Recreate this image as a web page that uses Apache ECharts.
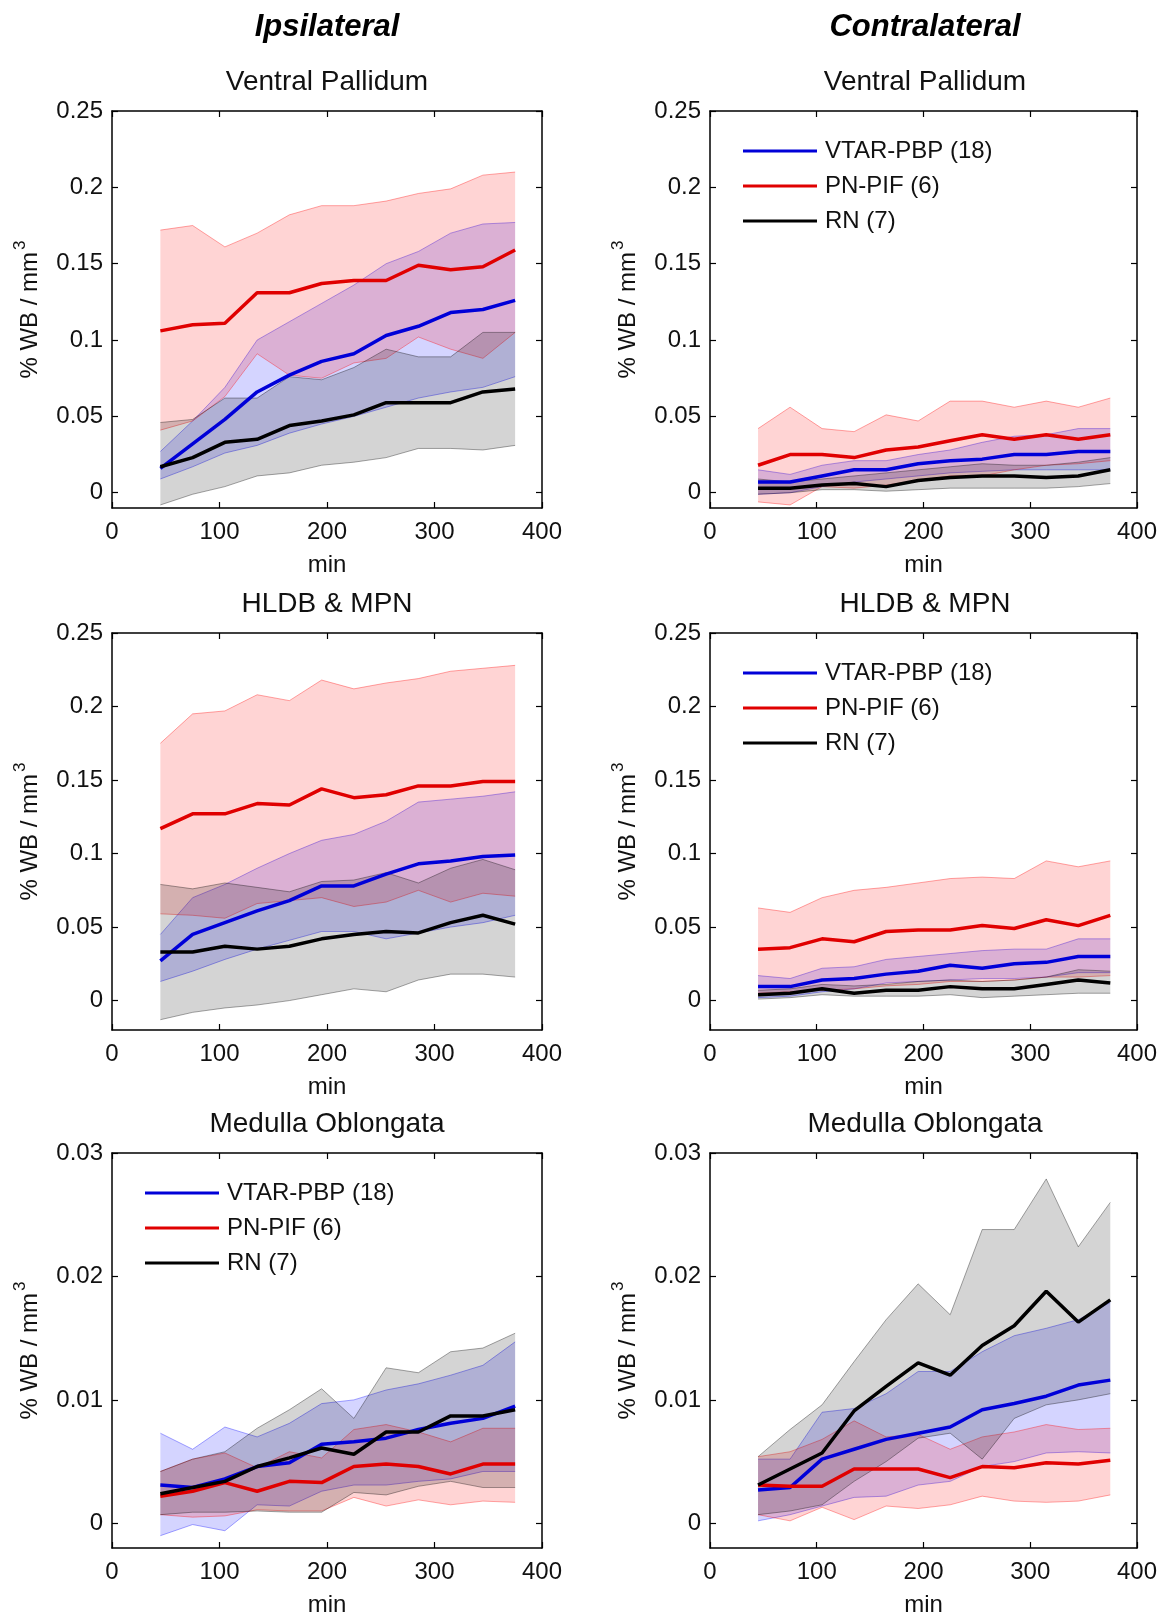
<!DOCTYPE html>
<html>
<head>
<meta charset="utf-8">
<title>Ipsilateral / Contralateral</title>
<script src="https://cdn.jsdelivr.net/npm/echarts@6/dist/echarts.min.js"></script>
<style>
  html, body { margin: 0; padding: 0; background: #fff; }
  #chart { width: 1160px; height: 1618px; }
</style>
</head>
<body>
<div id="chart"></div>
<script>
// ---- shared axes / labels ----
const minutes = [45, 75, 105, 135, 165, 195, 225, 255, 285, 315, 345, 375];
const xTicks = [0, 100, 200, 300, 400];
const yTicksForebrain = [0, 0.05, 0.1, 0.15, 0.2, 0.25];
const yTicksMedulla = [0, 0.01, 0.02, 0.03];
const groupNames = ['VTAR-PBP (18)', 'PN-PIF (6)', 'RN (7)'];
const columnTitles = ['Ipsilateral', 'Contralateral'];
const regionTitles = ['Ventral Pallidum', 'HLDB & MPN', 'Medulla Oblongata'];

// ---- Ipsilateral · Ventral Pallidum ----
const ipsiVPVtarMean = [0.016, 0.032, 0.048, 0.066, 0.077, 0.086, 0.091, 0.103, 0.109, 0.118, 0.120, 0.126];
const ipsiVPVtarLow  = [0.009, 0.017, 0.026, 0.031, 0.039, 0.045, 0.050, 0.056, 0.062, 0.066, 0.069, 0.076];
const ipsiVPVtarHigh = [0.027, 0.047, 0.069, 0.100, 0.112, 0.124, 0.136, 0.150, 0.158, 0.170, 0.176, 0.177];
const ipsiVPPnMean   = [0.106, 0.110, 0.111, 0.131, 0.131, 0.137, 0.139, 0.139, 0.149, 0.146, 0.148, 0.159];
const ipsiVPPnLow    = [0.041, 0.047, 0.063, 0.091, 0.077, 0.075, 0.085, 0.088, 0.102, 0.094, 0.088, 0.105];
const ipsiVPPnHigh   = [0.172, 0.175, 0.161, 0.170, 0.182, 0.188, 0.188, 0.191, 0.196, 0.199, 0.208, 0.210];
const ipsiVPRnMean   = [0.017, 0.023, 0.033, 0.035, 0.044, 0.047, 0.051, 0.059, 0.059, 0.059, 0.066, 0.068];
const ipsiVPRnLow    = [-0.008, -0.001, 0.004, 0.011, 0.013, 0.018, 0.020, 0.023, 0.029, 0.029, 0.028, 0.031];
const ipsiVPRnHigh   = [0.046, 0.048, 0.062, 0.062, 0.076, 0.074, 0.082, 0.094, 0.089, 0.089, 0.105, 0.105];

// ---- Contralateral · Ventral Pallidum ----
const contraVPVtarMean = [0.007, 0.007, 0.011, 0.015, 0.015, 0.019, 0.021, 0.022, 0.025, 0.025, 0.027, 0.027];
const contraVPVtarLow  = [-0.001, 0.000, 0.004, 0.007, 0.009, 0.011, 0.013, 0.014, 0.015, 0.015, 0.015, 0.015];
const contraVPVtarHigh = [0.015, 0.012, 0.018, 0.021, 0.021, 0.025, 0.028, 0.033, 0.037, 0.038, 0.042, 0.042];
const contraVPPnMean   = [0.018, 0.025, 0.025, 0.023, 0.028, 0.030, 0.034, 0.038, 0.035, 0.038, 0.035, 0.038];
const contraVPPnLow    = [-0.006, -0.008, 0.004, 0.003, 0.005, 0.008, 0.011, 0.011, 0.015, 0.018, 0.019, 0.021];
const contraVPPnHigh   = [0.042, 0.056, 0.042, 0.040, 0.051, 0.047, 0.060, 0.060, 0.056, 0.060, 0.056, 0.062];
const contraVPRnMean   = [0.003, 0.003, 0.005, 0.006, 0.004, 0.008, 0.010, 0.011, 0.011, 0.010, 0.011, 0.015];
const contraVPRnLow    = [-0.001, 0.000, 0.002, 0.002, 0.001, 0.002, 0.003, 0.003, 0.003, 0.003, 0.004, 0.006];
const contraVPRnHigh   = [0.009, 0.007, 0.009, 0.011, 0.013, 0.015, 0.017, 0.019, 0.018, 0.018, 0.020, 0.023];

// ---- Ipsilateral · HLDB & MPN ----
const ipsiHLVtarMean = [0.027, 0.045, 0.053, 0.061, 0.068, 0.078, 0.078, 0.086, 0.093, 0.095, 0.098, 0.099];
const ipsiHLVtarLow  = [0.013, 0.020, 0.028, 0.035, 0.041, 0.047, 0.047, 0.042, 0.046, 0.050, 0.053, 0.058];
const ipsiHLVtarHigh = [0.045, 0.070, 0.079, 0.090, 0.100, 0.109, 0.113, 0.122, 0.135, 0.137, 0.139, 0.142];
const ipsiHLPnMean   = [0.117, 0.127, 0.127, 0.134, 0.133, 0.144, 0.138, 0.140, 0.146, 0.146, 0.149, 0.149];
const ipsiHLPnLow    = [0.059, 0.058, 0.056, 0.066, 0.068, 0.070, 0.064, 0.067, 0.075, 0.067, 0.073, 0.071];
const ipsiHLPnHigh   = [0.175, 0.195, 0.197, 0.208, 0.204, 0.218, 0.212, 0.216, 0.219, 0.224, 0.226, 0.228];
const ipsiHLRnMean   = [0.033, 0.033, 0.037, 0.035, 0.037, 0.042, 0.045, 0.047, 0.046, 0.053, 0.058, 0.052];
const ipsiHLRnLow    = [-0.013, -0.008, -0.005, -0.003, 0.000, 0.004, 0.008, 0.006, 0.014, 0.018, 0.018, 0.016];
const ipsiHLRnHigh   = [0.079, 0.076, 0.080, 0.077, 0.074, 0.081, 0.082, 0.087, 0.080, 0.090, 0.096, 0.089];

// ---- Contralateral · HLDB & MPN ----
const contraHLVtarMean = [0.0095, 0.0095, 0.014, 0.015, 0.018, 0.020, 0.024, 0.022, 0.025, 0.026, 0.030, 0.030];
const contraHLVtarLow  = [0.002, 0.003, 0.006, 0.008, 0.012, 0.013, 0.014, 0.015, 0.015, 0.016, 0.019, 0.019];
const contraHLVtarHigh = [0.017, 0.015, 0.022, 0.023, 0.028, 0.030, 0.032, 0.034, 0.035, 0.035, 0.042, 0.042];
const contraHLPnMean   = [0.035, 0.036, 0.042, 0.040, 0.047, 0.048, 0.048, 0.051, 0.049, 0.055, 0.051, 0.058];
const contraHLPnLow    = [0.005, 0.006, 0.007, 0.008, 0.010, 0.011, 0.013, 0.013, 0.014, 0.016, 0.016, 0.017];
const contraHLPnHigh   = [0.063, 0.060, 0.070, 0.075, 0.077, 0.080, 0.083, 0.084, 0.083, 0.095, 0.091, 0.095];
const contraHLRnMean   = [0.004, 0.005, 0.008, 0.005, 0.007, 0.007, 0.0095, 0.008, 0.008, 0.011, 0.014, 0.012];
const contraHLRnLow    = [0.001, 0.002, 0.004, 0.003, 0.003, 0.003, 0.004, 0.002, 0.003, 0.004, 0.005, 0.005];
const contraHLRnHigh   = [0.007, 0.008, 0.011, 0.010, 0.011, 0.013, 0.014, 0.013, 0.014, 0.016, 0.021, 0.020];

// ---- Ipsilateral · Medulla Oblongata ----
const ipsiMOVtarMean = [0.0031, 0.0029, 0.0036, 0.0046, 0.0049, 0.0064, 0.0066, 0.0069, 0.0076, 0.0081, 0.0085, 0.0095];
const ipsiMOVtarLow  = [-0.0010, -0.0001, -0.0006, 0.0015, 0.0014, 0.0026, 0.0031, 0.0031, 0.0034, 0.0036, 0.0042, 0.0042];
const ipsiMOVtarHigh = [0.0073, 0.0060, 0.0078, 0.0070, 0.0081, 0.0097, 0.0100, 0.0108, 0.0113, 0.0120, 0.0128, 0.0147];
const ipsiMOPnMean   = [0.0022, 0.0026, 0.0033, 0.0026, 0.0034, 0.0033, 0.0046, 0.0048, 0.0046, 0.0040, 0.0048, 0.0048];
const ipsiMOPnLow    = [0.0007, 0.0005, 0.0006, 0.0011, 0.0010, 0.0010, 0.0021, 0.0014, 0.0019, 0.0015, 0.0018, 0.0017];
const ipsiMOPnHigh   = [0.0042, 0.0052, 0.0057, 0.0045, 0.0058, 0.0053, 0.0076, 0.0080, 0.0074, 0.0066, 0.0077, 0.0077];
const ipsiMORnMean   = [0.0024, 0.0029, 0.0034, 0.0046, 0.0053, 0.0061, 0.0056, 0.0074, 0.0074, 0.0087, 0.0087, 0.0092];
const ipsiMORnLow    = [0.0007, 0.0009, 0.0009, 0.0010, 0.0009, 0.0009, 0.0025, 0.0023, 0.0030, 0.0034, 0.0029, 0.0029];
const ipsiMORnHigh   = [0.0042, 0.0052, 0.0058, 0.0077, 0.0092, 0.0109, 0.0085, 0.0126, 0.0122, 0.0139, 0.0142, 0.0154];

// ---- Contralateral · Medulla Oblongata ----
const contraMOVtarMean = [0.0027, 0.0029, 0.0052, 0.0060, 0.0068, 0.0073, 0.0078, 0.0092, 0.0097, 0.0103, 0.0112, 0.0116];
const contraMOVtarLow  = [0.0002, 0.0007, 0.0014, 0.0021, 0.0022, 0.0031, 0.0034, 0.0046, 0.0050, 0.0057, 0.0058, 0.0057];
const contraMOVtarHigh = [0.0052, 0.0052, 0.0090, 0.0093, 0.0105, 0.0123, 0.0123, 0.0139, 0.0152, 0.0158, 0.0165, 0.0179];
const contraMOPnMean   = [0.0031, 0.0030, 0.0030, 0.0044, 0.0044, 0.0044, 0.0037, 0.0046, 0.0045, 0.0049, 0.0048, 0.0051];
const contraMOPnLow    = [0.0007, 0.0002, 0.0013, 0.0003, 0.0014, 0.0012, 0.0015, 0.0022, 0.0018, 0.0017, 0.0018, 0.0023];
const contraMOPnHigh   = [0.0054, 0.0058, 0.0068, 0.0083, 0.0070, 0.0072, 0.0060, 0.0070, 0.0074, 0.0080, 0.0076, 0.0077];
const contraMORnMean   = [0.0031, 0.0044, 0.0057, 0.0091, 0.0111, 0.0130, 0.0120, 0.0144, 0.0160, 0.0188, 0.0163, 0.0181];
const contraMORnLow    = [0.0007, 0.0010, 0.0015, 0.0034, 0.0050, 0.0069, 0.0073, 0.0052, 0.0085, 0.0096, 0.0100, 0.0105];
const contraMORnHigh   = [0.0054, 0.0076, 0.0096, 0.0131, 0.0165, 0.0194, 0.0169, 0.0238, 0.0238, 0.0279, 0.0224, 0.0260];

// ---- panel definitions ----
const panels = [
  { col: 0, row: 0, yMin: -0.01, yMax: 0.25, yTicks: yTicksForebrain, legend: false,
    groups: [[ipsiVPVtarMean, ipsiVPVtarLow, ipsiVPVtarHigh], [ipsiVPPnMean, ipsiVPPnLow, ipsiVPPnHigh], [ipsiVPRnMean, ipsiVPRnLow, ipsiVPRnHigh]] },
  { col: 1, row: 0, yMin: -0.01, yMax: 0.25, yTicks: yTicksForebrain, legend: true,
    groups: [[contraVPVtarMean, contraVPVtarLow, contraVPVtarHigh], [contraVPPnMean, contraVPPnLow, contraVPPnHigh], [contraVPRnMean, contraVPRnLow, contraVPRnHigh]] },
  { col: 0, row: 1, yMin: -0.02, yMax: 0.25, yTicks: yTicksForebrain, legend: false,
    groups: [[ipsiHLVtarMean, ipsiHLVtarLow, ipsiHLVtarHigh], [ipsiHLPnMean, ipsiHLPnLow, ipsiHLPnHigh], [ipsiHLRnMean, ipsiHLRnLow, ipsiHLRnHigh]] },
  { col: 1, row: 1, yMin: -0.02, yMax: 0.25, yTicks: yTicksForebrain, legend: true,
    groups: [[contraHLVtarMean, contraHLVtarLow, contraHLVtarHigh], [contraHLPnMean, contraHLPnLow, contraHLPnHigh], [contraHLRnMean, contraHLRnLow, contraHLRnHigh]] },
  { col: 0, row: 2, yMin: -0.002, yMax: 0.03, yTicks: yTicksMedulla, legend: true,
    groups: [[ipsiMOVtarMean, ipsiMOVtarLow, ipsiMOVtarHigh], [ipsiMOPnMean, ipsiMOPnLow, ipsiMOPnHigh], [ipsiMORnMean, ipsiMORnLow, ipsiMORnHigh]] },
  { col: 1, row: 2, yMin: -0.002, yMax: 0.03, yTicks: yTicksMedulla, legend: false,
    groups: [[contraMOVtarMean, contraMOVtarLow, contraMOVtarHigh], [contraMOPnMean, contraMOPnLow, contraMOPnHigh], [contraMORnMean, contraMORnLow, contraMORnHigh]] }
];

// ---- styling ----
const FONT = "'Liberation Sans', Arial, Helvetica, sans-serif";
const TEXT = '#111';
const lineColors = ['#0000d8', '#e00000', '#000000'];
const bandFills  = ['rgba(0,0,255,0.17)', 'rgba(255,0,0,0.17)', 'rgba(0,0,0,0.17)'];
const bandEdges  = ['rgba(0,0,255,0.35)', 'rgba(255,0,0,0.35)', 'rgba(0,0,0,0.35)'];

const colLeft = [112, 710];
const rowTop = [111, 633, 1153];
const plotW = 430;
const plotH = 397;

const grid = [], xAxis = [], yAxis = [], series = [], legend = [], graphic = [];

const frameLine = { show: true, onZero: false, lineStyle: { color: '#000', width: 1.5 } };
const tickStyle = { color: '#000', width: 1.2 };

panels.forEach((p, k) => {
  const left = colLeft[p.col], top = rowTop[p.row];
  grid.push({ left: left, top: top, width: plotW, height: plotH, containLabel: false });

  // bottom and top x axes
  xAxis.push({
    gridIndex: k, type: 'value', position: 'bottom', min: 0, max: 400,
    axisLine: frameLine,
    axisTick: { inside: true, length: 6, customValues: xTicks, lineStyle: tickStyle },
    axisLabel: { customValues: xTicks, fontSize: 24, color: TEXT, fontFamily: FONT, margin: 12 },
    splitLine: { show: false },
    name: 'min', nameLocation: 'middle', nameGap: 45,
    nameTextStyle: { fontSize: 24, color: TEXT, fontFamily: FONT }
  });
  xAxis.push({
    gridIndex: k, type: 'value', position: 'top', min: 0, max: 400,
    axisLine: frameLine,
    axisTick: { inside: true, length: 6, customValues: xTicks, lineStyle: tickStyle },
    axisLabel: { show: false },
    splitLine: { show: false }
  });

  // left and right y axes
  yAxis.push({
    gridIndex: k, type: 'value', position: 'left', min: p.yMin, max: p.yMax,
    axisLine: frameLine,
    axisTick: { inside: true, length: 6, customValues: p.yTicks, lineStyle: tickStyle },
    axisLabel: { customValues: p.yTicks, fontSize: 24, color: TEXT, fontFamily: FONT, margin: 9 },
    splitLine: { show: false },
    name: '{n|% WB / mm}{s|3}', nameLocation: 'middle', nameGap: 70,
    nameTextStyle: {
      color: TEXT, fontFamily: FONT,
      rich: {
        n: { fontSize: 24, lineHeight: 30, verticalAlign: 'bottom', color: TEXT, fontFamily: FONT },
        s: { fontSize: 17, lineHeight: 17, verticalAlign: 'top', color: TEXT, fontFamily: FONT, padding: [0, 0, 0, 2] }
      }
    }
  });
  yAxis.push({
    gridIndex: k, type: 'value', position: 'right', min: p.yMin, max: p.yMax,
    axisLine: frameLine,
    axisTick: { inside: true, length: 6, customValues: p.yTicks, lineStyle: tickStyle },
    axisLabel: { show: false },
    splitLine: { show: false }
  });

  // shaded spread bands
  p.groups.forEach((g, gi) => {
    const [, low, high] = g;
    series.push({
      type: 'custom', name: groupNames[gi] + ' range',
      xAxisIndex: 2 * k, yAxisIndex: 2 * k, z: 2, silent: true,
      data: minutes.map((m, i) => [m, low[i], high[i]]),
      encode: { x: 0, y: [1, 2] },
      renderItem: (params, api) => {
        if (params.dataIndexInside !== 0) return null;
        const n = params.dataInsideLength;
        const upper = [], lower = [];
        for (let i = 0; i < n; i++) {
          const x = api.value(0, i);
          lower.push(api.coord([x, api.value(1, i)]));
          upper.push(api.coord([x, api.value(2, i)]));
        }
        return {
          type: 'group',
          children: [
            { type: 'polygon', shape: { points: upper.concat(lower.slice().reverse()) },
              style: { fill: bandFills[gi], stroke: null } },
            { type: 'polyline', shape: { points: upper },
              style: { fill: null, stroke: bandEdges[gi], lineWidth: 1 } },
            { type: 'polyline', shape: { points: lower },
              style: { fill: null, stroke: bandEdges[gi], lineWidth: 1 } }
          ]
        };
      }
    });
  });

  // group mean lines
  p.groups.forEach((g, gi) => {
    const mean = g[0];
    series.push({
      type: 'line', name: groupNames[gi],
      xAxisIndex: 2 * k, yAxisIndex: 2 * k, z: 3, silent: true,
      data: minutes.map((m, i) => [m, mean[i]]),
      symbol: 'none', showSymbol: false,
      itemStyle: { color: lineColors[gi] },
      lineStyle: { color: lineColors[gi], width: 3.5 }
    });
  });

  if (p.legend) {
    legend.push({
      left: left + 28, top: top + 23, orient: 'vertical',
      itemWidth: 74, itemHeight: 3, itemGap: 11,
      icon: 'rect', selectedMode: false,
      data: groupNames,
      textStyle: { fontSize: 24, color: TEXT, fontFamily: FONT, padding: [0, 0, 0, 3] }
    });
  }

  // region title above each panel
  graphic.push({
    type: 'text', x: left + plotW / 2, y: top - 29,
    style: { text: regionTitles[p.row], fill: TEXT, font: '28px ' + FONT, align: 'center', verticalAlign: 'middle' }
  });
});

// column headers
columnTitles.forEach((t, c) => {
  graphic.push({
    type: 'text', x: colLeft[c] + plotW / 2, y: 27,
    style: { text: t, fill: '#000', font: 'italic bold 31px ' + FONT, align: 'center', verticalAlign: 'middle' }
  });
});

const chart = echarts.init(document.getElementById('chart'), null, { renderer: 'canvas' });
chart.setOption({
  animation: false,
  backgroundColor: '#fff',
  grid, xAxis, yAxis, series, legend, graphic,
  tooltip: { show: false }
});
</script>
</body>
</html>
